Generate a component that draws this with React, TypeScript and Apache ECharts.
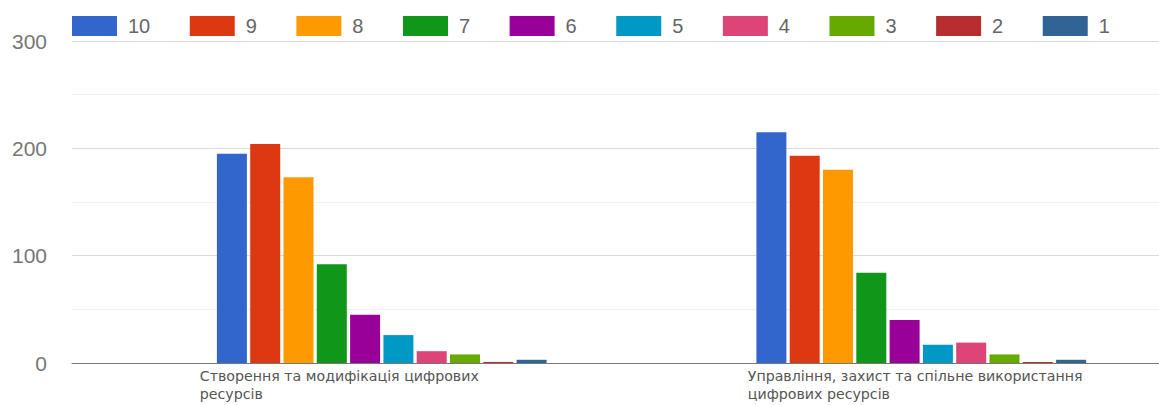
import React, { useEffect, useRef } from "react";
import * as echarts from "echarts";

const categories = [
  "Створення та модифікація цифрових\nресурсів",
  "Управління, захист та спільне використання\nцифрових ресурсів",
];
const ratings = ["10", "9", "8", "7", "6", "5", "4", "3", "2", "1"];
// counts per rating (10 .. 1) for each category
const creationCounts = [195, 204, 173, 92, 45, 26, 11, 8, 1, 3];
const managementCounts = [215, 193, 180, 84, 40, 17, 19, 8, 1, 3];
const colors = [
  "#3366cc", "#dc3912", "#ff9900", "#109618", "#990099",
  "#0099c6", "#dd4477", "#66aa00", "#b82e2e", "#316395",
];
const yTicks = [0, 100, 200, 300];

export default function App() {
  const ref = useRef<HTMLDivElement>(null);
  useEffect(() => {
    document.body.style.margin = "0";
    const chart = echarts.init(ref.current!, null, { renderer: "svg" });
    const series = ratings.map((r, i) => ({
      name: r,
      type: "bar",
      xAxisIndex: 0,
      yAxisIndex: 0,
      barWidth: 30,
      barGap: "11%",
      itemStyle: { color: colors[i] },
      data: [creationCounts[i], managementCounts[i]],
    }));
    const labelStyle = {
      align: "left",
      fontFamily: "DejaVu Sans",
      fontSize: 14.2,
      lineHeight: 18,
      color: "#555",
    };
    chart.setOption({
      animation: false,
      textStyle: { fontFamily: "Liberation Sans, Arial, sans-serif" },
      legend: {
        left: 72,
        top: 16,
        padding: 0,
        icon: "rect",
        itemWidth: 45,
        itemHeight: 20,
        itemGap: 39.5,
        textStyle: { fontSize: 20, color: "#666", padding: [0, 0, 0, 6] },
        data: ratings,
      },
      grid: [
        { left: 112, width: 1079, top: 41, height: 322, containLabel: false, outerBoundsMode: "none" },
        { left: 72, right: 0, top: 41, height: 322, containLabel: false, outerBoundsMode: "none" },
      ],
      xAxis: [
        {
          type: "category",
          gridIndex: 0,
          data: categories,
          axisLine: { show: false },
          axisTick: { show: false },
          axisLabel: {
            interval: 0,
            margin: 4,
            align: "center",
            formatter: (v: string, idx: number) =>
              v.split("\n").map((l) => `{c${idx}|${l}}`).join("\n"),
            rich: {
              c0: { ...labelStyle, width: 364 },
              c1: { ...labelStyle, width: 347 },
            },
          },
        },
        {
          type: "value",
          gridIndex: 1,
          min: 0,
          max: 1,
          axisLine: { show: true, lineStyle: { color: "#777", width: 1 } },
          axisTick: { show: false },
          axisLabel: { show: false },
          splitLine: { show: false },
        },
      ],
      yAxis: [
        {
          type: "value",
          gridIndex: 0,
          min: yTicks[0],
          max: yTicks[yTicks.length - 1],
          interval: 100,
          show: false,
        },
        {
          type: "value",
          gridIndex: 1,
          min: yTicks[0],
          max: yTicks[yTicks.length - 1],
          interval: 100,
          axisLine: { show: false },
          axisTick: { show: false },
          axisLabel: { fontSize: 21, color: "#777", margin: 25 },
          splitLine: { lineStyle: { color: "#d9d9d9" } },
          minorTick: { show: false, splitNumber: 2 },
          minorSplitLine: { show: true, lineStyle: { color: "#f0f0f0" } },
        },
      ],
      series,
    });
    return () => chart.dispose();
  }, []);
  return <div ref={ref} style={{ width: 1159, height: 405 }} />;
}
